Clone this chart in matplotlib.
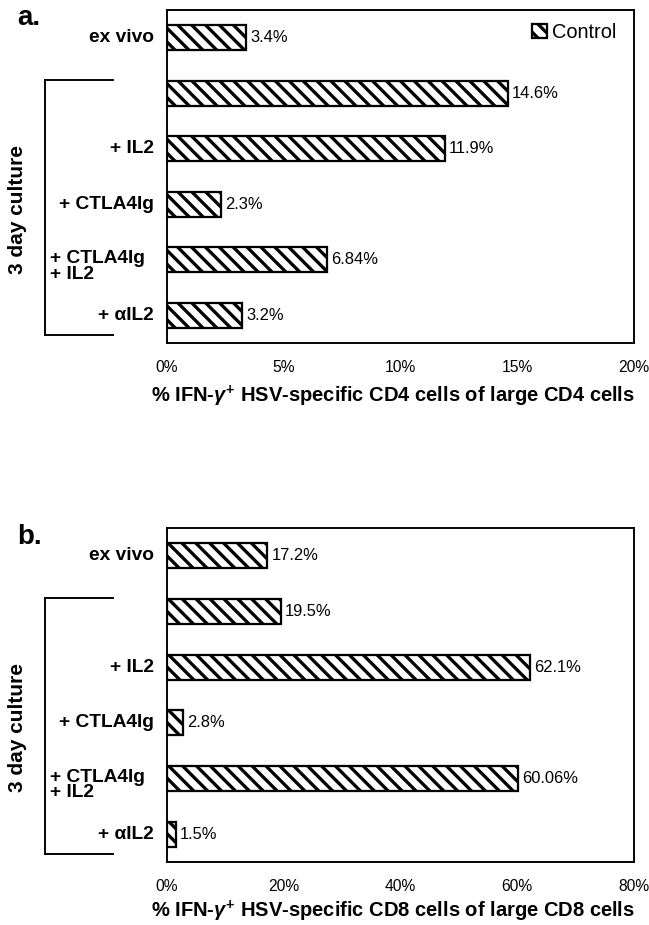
import matplotlib
matplotlib.use("Agg")
import matplotlib.pyplot as plt
from matplotlib.lines import Line2D
from matplotlib.patches import Patch

# ---- data -------------------------------------------------------------
conditions = ["ex vivo", "", "+ IL2", "+ CTLA4Ig", "+ CTLA4Ig\n+ IL2", "+ \u03b1IL2"]
cd4_values = [3.4, 14.6, 11.9, 2.3, 6.84, 3.2]
cd8_values = [17.2, 19.5, 62.1, 2.8, 60.06, 1.5]
cd4_ticks = [0, 5, 10, 15, 20]
cd8_ticks = [0, 20, 40, 60, 80]
cd4_xlabel = r"% IFN-$\gamma^{+}$ HSV-specific CD4 cells of large CD4 cells"
cd8_xlabel = r"% IFN-$\gamma^{+}$ HSV-specific CD8 cells of large CD8 cells"
group_label = "3 day culture"
legend_label = "Control"

# ---- style ------------------------------------------------------------
W, H, DPI = 649, 925, 125
plt.rcParams["font.family"] = ["Liberation Sans", "DejaVu Sans"]
plt.rcParams["mathtext.fontset"] = "custom"
plt.rcParams["mathtext.rm"] = "Liberation Sans:bold"
plt.rcParams["mathtext.it"] = "Liberation Sans:bold:italic"
plt.rcParams["mathtext.bf"] = "Liberation Sans:bold"
plt.rcParams["hatch.linewidth"] = 1.9
plt.rcParams["hatch.color"] = "black"

HATCH = "\\\\\\"
fig = plt.figure(figsize=(W / DPI, H / DPI), dpi=DPI)


def fx(px):
    return px / W


def fy(py):
    return 1 - py / H


def panel(top, bottom, values, ticks, xlabel, letter, letter_y, label_y,
          bracket_top, bracket_bot, show_legend):
    left, right = 167, 634
    ax = fig.add_axes([fx(left), fy(bottom), fx(right - left), (bottom - top) / H])
    ypos = list(range(len(conditions)))
    ax.barh(ypos, values, height=0.45, color="white", edgecolor="black",
            linewidth=1.3, hatch=HATCH)
    ax.set_ylim(len(conditions) - 0.5, -0.5)
    ax.set_xlim(ticks[0], ticks[-1])
    ax.set_xticks(ticks)
    ax.set_xticklabels([f"{t}%" for t in ticks], fontsize=9)
    ax.tick_params(axis="x", length=0, pad=10)
    ax.set_yticks([])
    for s in ax.spines.values():
        s.set_linewidth(1.1)

    span = ticks[-1] - ticks[0]
    for y, v in zip(ypos, values):
        ax.text(v + span * 0.009, y, f"{v}%", va="center", ha="left",
                fontsize=9.5)

    # category labels
    for y, lab in zip(ypos, conditions):
        if not lab:
            continue
        if "\n" in lab:
            ax.text(-117 / (right - left), y + 0.12, lab,
                    transform=ax.get_yaxis_transform(), ha="left",
                    va="center", fontsize=11, fontweight="bold",
                    linespacing=0.88)
        else:
            ax.text(-13 / (right - left), y, lab,
                    transform=ax.get_yaxis_transform(), ha="right",
                    va="center", fontsize=11, fontweight="bold")

    # bracket grouping the cultured conditions
    bx, bx2 = 45, 113
    for (x0, y0, x1, y1) in [(bx, bracket_top, bx, bracket_bot),
                             (bx, bracket_top, bx2, bracket_top),
                             (bx, bracket_bot, bx2, bracket_bot)]:
        fig.add_artist(Line2D([fx(x0), fx(x1)], [fy(y0), fy(y1)],
                              color="black", linewidth=1.1))
    fig.text(fx(18), fy((bracket_top + bracket_bot) / 2 + 2), group_label,
             rotation=90, ha="center", va="center", fontsize=12,
             fontweight="bold")

    fig.text(fx(393), fy(label_y), xlabel, ha="center", va="center",
             fontsize=11.6, fontweight="bold")
    fig.text(fx(17), fy(letter_y), letter, ha="left", va="center",
             fontsize=16, fontweight="bold")

    if show_legend:
        handle = Patch(facecolor="white", edgecolor="black", hatch=HATCH,
                       linewidth=1.3)
        ax.legend([handle], [legend_label], loc="upper right",
                  bbox_to_anchor=(fx(629 - left) / fx(right - left), 1.0),
                  frameon=False, fontsize=11.5, handlelength=0.75,
                  handleheight=0.75, handletextpad=0.25, borderaxespad=0.35,
                  borderpad=0.3)
    return ax


panel(10, 343, cd4_values, cd4_ticks, cd4_xlabel, "a.", 18, 396, 80, 335, True)
panel(528, 862, cd8_values, cd8_ticks, cd8_xlabel, "b.", 537, 911, 598, 854, False)

fig.savefig("out.png", dpi=DPI)
